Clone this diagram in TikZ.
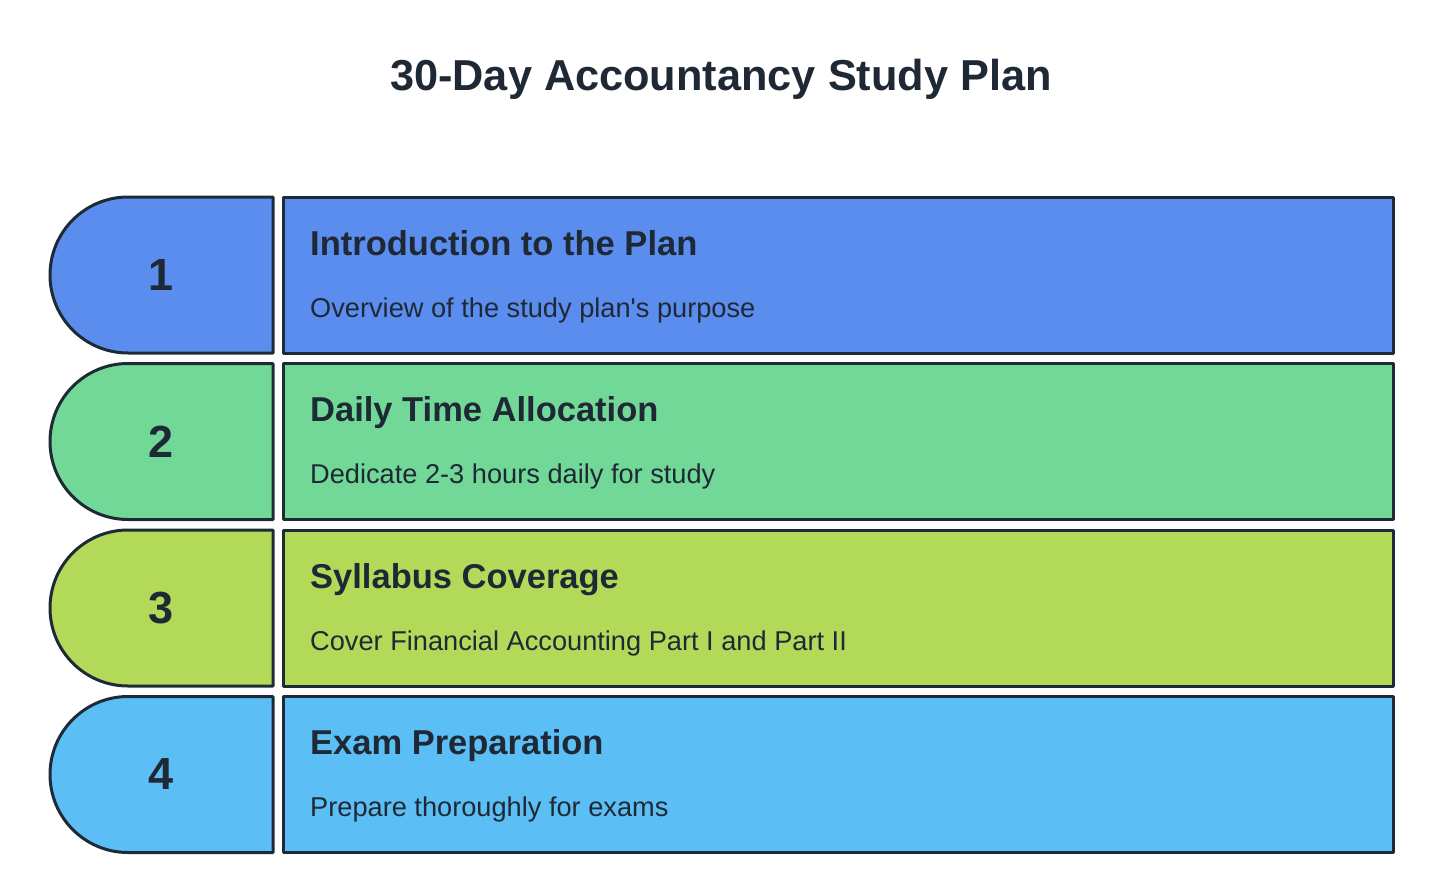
\documentclass[tikz,border=0pt]{standalone}
\usepackage{fontspec}
\setmainfont{Liberation Sans}
\definecolor{edge}{HTML}{1E2A36}
\definecolor{ink}{HTML}{1F2935}
\definecolor{cA}{HTML}{5B8DEF}
\definecolor{cB}{HTML}{72D897}
\definecolor{cC}{HTML}{B2DA58}
\definecolor{cD}{HTML}{5BBEF5}
\tikzset{
  band/.style={draw=edge, line width=3pt, line join=round},
  numtext/.style={text=ink, font=\fontsize{45}{50}\selectfont\bfseries, anchor=center},
  headtext/.style={text=ink, font=\fontsize{34.5}{40}\selectfont\bfseries, anchor=base west, inner sep=0pt},
  subtext/.style={text=ink, font=\fontsize{27.2}{32}\selectfont, anchor=base west, inner sep=0pt},
  titletext/.style={text=ink, font=\fontsize{43.3}{50}\selectfont\bfseries, anchor=base, inner sep=0pt}
}
\begin{document}
\begin{tikzpicture}[x=1pt,y=1pt]
\useasboundingbox (0,0) rectangle (1452,-894);
\node[titletext] (title) at (721,-90) {30-Day Accountancy Study Plan};
\foreach \t/\c/\n/\h/\s [count=\i] in {
  197/cA/1/Introduction to the Plan/Overview of the study plan\textquotesingle s purpose,
  363.5/cB/2/Daily Time Allocation/Dedicate 2-3 hours daily for study,
  530/cC/3/Syllabus Coverage/Cover Financial Accounting Part I and Part II,
  696.5/cD/4/Exam Preparation/Prepare thoroughly for exams} {
  \pgfmathsetmacro{\b}{\t+156}
  \pgfmathsetmacro{\m}{\t+78}
  \draw[band, fill=\c] (273,-\t) -- (128,-\t) arc[start angle=90, end angle=270, radius=78] -- (273,-\b) -- cycle;
  \draw[band, fill=\c] (283,-\t) rectangle (1393,-\b);
  \node[numtext] (num\i) at (161,-\m) {\n};
  \node[headtext] (head\i) at (310,-\t-58) {\h};
  \node[subtext] (sub\i) at (310,-\t-120) {\s};
}
\end{tikzpicture}
\end{document}
